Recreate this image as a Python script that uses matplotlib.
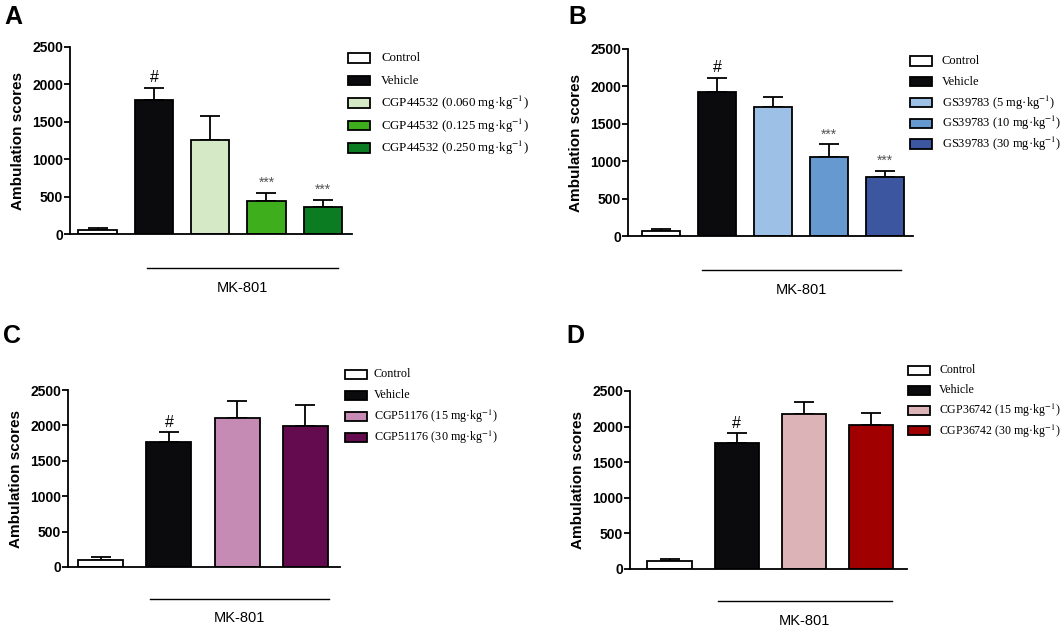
import numpy as np
import matplotlib
matplotlib.use('Agg')
import matplotlib.pyplot as plt
from matplotlib.patches import Rectangle

plt.rcParams['font.family'] = ['Liberation Sans', 'DejaVu Sans']
plt.rcParams['mathtext.fontset'] = 'stix'

W, H = 1063, 628

# ===== DATA =====
A_labels = ['Control', 'Vehicle',
            'CGP44532 (0.060 mg·kg$^{-1}$)',
            'CGP44532 (0.125 mg·kg$^{-1}$)',
            'CGP44532 (0.250 mg·kg$^{-1}$)']
A_means = [58, 1795, 1252, 441, 365]
A_sem = [22, 153, 326, 112, 94]
A_marks = ['', '#', '', '***', '***']
A_colors = ['#ffffff', '#0b0b0d', '#d5e9c6', '#3fae1c', '#0c7c22']

B_labels = ['Control', 'Vehicle',
            'GS39783 (5 mg·kg$^{-1}$)',
            'GS39783 (10 mg·kg$^{-1}$)',
            'GS39783 (30 mg·kg$^{-1}$)']
B_means = [71, 1929, 1729, 1060, 789]
B_sem = [18, 183, 125, 166, 80]
B_marks = ['', '#', '', '***', '***']
B_colors = ['#ffffff', '#0b0b0d', '#9dc0e6', '#6699cf', '#3c569f']

C_labels = ['Control', 'Vehicle',
            'CGP51176 (15 mg·kg$^{-1}$)',
            'CGP51176 (30 mg·kg$^{-1}$)']
C_means = [105, 1770, 2100, 1991]
C_sem = [40, 132, 244, 292]
C_marks = ['', '#', '', '']
C_colors = ['#ffffff', '#0b0b0d', '#c68bb5', '#640a4f']

D_labels = ['Control', 'Vehicle',
            'CGP36742 (15 mg·kg$^{-1}$)',
            'CGP36742 (30 mg·kg$^{-1}$)']
D_means = [107, 1773, 2179, 2020]
D_sem = [38, 131, 173, 178]
D_marks = ['', '#', '', '']
D_colors = ['#ffffff', '#0b0b0d', '#dcb3b6', '#a10000']

yticks = [0, 500, 1000, 1500, 2000, 2500]


def px_rect(l, t, r, b):
    return [l / W, 1 - b / H, (r - l) / W, (b - t) / H]


fig = plt.figure(figsize=(W / 100, H / 100), dpi=100)

panels = [
    # letter, labels, means, sem, marks, colors, axes px, xlim, bar width, mk line,
    # letter pos, legend (patch x, first row y, row step, text x offset, font size)
    ('A', A_labels, A_means, A_sem, A_marks, A_colors, (70, 47, 352, 234), (-0.49, 4.52), 0.68,
     (0.88, 4.28), (4, 24), (348, 58, 22.5, 33, 9.3)),
    ('B', B_labels, B_means, B_sem, B_marks, B_colors, (628, 49, 913, 236), (-0.59, 4.5), 0.68,
     (0.73, 4.29), (568, 24), (910, 61, 20.75, 32, 9.0)),
    ('C', C_labels, C_means, C_sem, C_marks, C_colors, (68, 390, 340, 567), (-0.48, 3.51), 0.66,
     (0.73, 3.35), (3, 343), (345, 374, 21, 29, 8.7)),
    ('D', D_labels, D_means, D_sem, D_marks, D_colors, (630, 391, 907, 569), (-0.59, 3.54), 0.66,
     (0.72, 3.31), (566, 343), (908, 370, 20.3, 31, 8.6)),
]

for (letter, labels, means, sem, marks, colors, box, xlim, bw, mk, lpos, leg) in panels:
    ax = fig.add_axes(px_rect(*box))
    x = np.arange(len(means))
    ax.bar(x, means, width=bw, color=colors, edgecolor='black', linewidth=1.3, zorder=2)
    ax.errorbar(x, means, yerr=[np.zeros(len(sem)), sem], fmt='none', ecolor='black',
                elinewidth=1.3, capsize=7, capthick=1.3, zorder=1)
    for xi, m, s, t in zip(x, means, sem, marks):
        if t == '#':
            ax.text(xi, m + s + 40, t, ha='center', va='bottom', fontsize=11.5)
        elif t:
            ax.text(xi, m + s + 130, t, ha='center', va='center', fontsize=10, color='#555555')
    ax.set_xlim(*xlim)
    ax.set_ylim(0, 2500)
    ax.set_yticks(yticks)
    ax.set_yticklabels([str(v) for v in yticks], fontweight='bold', fontsize=10)
    ax.set_xticks([])
    ax.spines['top'].set_visible(False)
    ax.spines['right'].set_visible(False)
    ax.spines['left'].set_linewidth(1.3)
    ax.spines['bottom'].set_linewidth(1.3)
    ax.tick_params(axis='y', length=4, width=1.3, pad=1)
    ax.set_ylabel('Ambulation scores', fontweight='bold', fontsize=11, labelpad=5)

    # MK-801 bracket under the treated groups
    ax.plot([mk[0], mk[1]], [-0.18, -0.18], color='black', linewidth=1,
            transform=ax.get_xaxis_transform(), clip_on=False)
    ax.text((mk[0] + mk[1]) / 2, -0.29, 'MK-801', ha='center', va='center', fontsize=10.5,
            transform=ax.get_xaxis_transform())

    fig.text(lpos[0] / W, 1 - lpos[1] / H, letter, fontsize=18, fontweight='bold',
             ha='left', va='baseline')

    # legend, rows evenly spaced as in the original
    lx, ly, step, toff, fs = leg
    for i, (c, lab) in enumerate(zip(colors, labels)):
        yc = ly + i * step
        fig.add_artist(Rectangle((lx / W, 1 - (yc + 4.5) / H), 22 / W, 9 / H,
                                 facecolor=c, edgecolor='black', linewidth=1.3,
                                 transform=fig.transFigure))
        fig.text((lx + toff) / W, 1 - yc / H, lab, ha='left', va='center',
                 family='Liberation Serif', fontsize=fs)

fig.savefig('out.png', dpi=100)
